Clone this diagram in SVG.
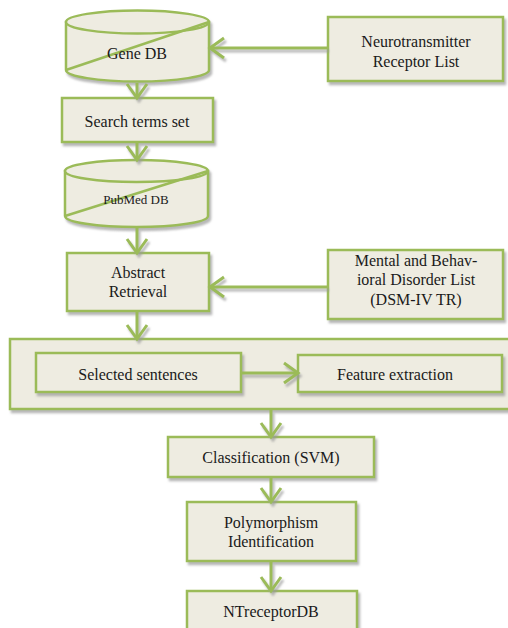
<svg xmlns="http://www.w3.org/2000/svg" width="508" height="628" viewBox="0 0 508 628">
<style>
.n{fill:#EEECE1;stroke:#9BBB59;stroke-width:2.5}
.l{fill:none;stroke:#9BBB59;stroke-width:2.5}
text{font-family:'Liberation Serif','Times New Roman',Times,serif;font-size:16px;fill:#1a1a1a;text-anchor:middle}
text.s{font-size:13px}
.c{fill:none;stroke:#9BBB59;stroke-width:3}
</style>
<defs>
<filter id="sh" x="-10%" y="-10%" width="130%" height="140%">
<feDropShadow dx="2" dy="3" stdDeviation="0.8" flood-color="#9a9a9a" flood-opacity="0.7"/>
</filter>
<marker id="ah" markerUnits="userSpaceOnUse" markerWidth="24" markerHeight="24" viewBox="0 0 24 24" refX="19" refY="12" orient="auto">
<path d="M5,2 L19,12 L5,22" fill="none" stroke="#9BBB59" stroke-width="3"/>
</marker>
</defs>
<rect width="508" height="628" fill="#FFFFFF"/>

<g id="geneDB" filter="url(#sh)">
<path class="n" d="M66,22 L66,70 A71.5,11.5 0 0 0 209,70 L209,22 Z"/>
<ellipse class="n" cx="137.5" cy="22" rx="71.5" ry="11.5"/>
<line class="l" x1="66" y1="70" x2="209" y2="22"/>
</g>
<text font-family="Liberation Serif, serif" x="137" y="59">Gene DB</text>

<g id="neuroList">
<rect class="n" x="328" y="17" width="175" height="64" filter="url(#sh)"/>
<text font-family="Liberation Serif, serif" x="416" y="47">Neurotransmitter</text>
<text font-family="Liberation Serif, serif" x="416" y="67">Receptor List</text>
</g>

<g id="searchTerms">
<rect class="n" x="62" y="98" width="151" height="44" filter="url(#sh)"/>
<text font-family="Liberation Serif, serif" x="137" y="127">Search terms set</text>
</g>

<g id="pubmedDB" filter="url(#sh)">
<path class="n" d="M65,171 L65,216 A71.5,11 0 0 0 208,216 L208,171 Z"/>
<ellipse class="n" cx="136.5" cy="171" rx="71.5" ry="11"/>
<line class="l" x1="65" y1="216" x2="208" y2="171"/>
</g>
<text class="s" font-family="Liberation Serif, serif" x="136" y="204">PubMed DB</text>

<g id="abstractRetrieval">
<rect class="n" x="67" y="253" width="142" height="58" filter="url(#sh)"/>
<text font-family="Liberation Serif, serif" x="138" y="278">Abstract</text>
<text font-family="Liberation Serif, serif" x="138" y="297">Retrieval</text>
</g>

<g id="disorderList">
<rect class="n" x="328" y="250" width="175" height="69" filter="url(#sh)"/>
<text font-family="Liberation Serif, serif" x="416" y="266">Mental and Behav-</text>
<text font-family="Liberation Serif, serif" x="416" y="285">ioral Disorder List</text>
<text font-family="Liberation Serif, serif" x="416" y="305">(DSM-IV TR)</text>
</g>

<g id="container">
<rect class="n" x="10" y="339" width="510" height="70" filter="url(#sh)"/>
</g>

<g id="selectedSentences">
<rect class="n" x="36" y="353" width="205" height="39" filter="url(#sh)"/>
<text font-family="Liberation Serif, serif" x="138" y="380">Selected sentences</text>
</g>

<g id="featureExtraction">
<rect class="n" x="298" y="355" width="204" height="37" filter="url(#sh)"/>
<text font-family="Liberation Serif, serif" x="395" y="380">Feature extraction</text>
</g>

<g id="classification">
<rect class="n" x="168" y="437" width="206" height="40" filter="url(#sh)"/>
<text font-family="Liberation Serif, serif" x="271" y="463">Classification (SVM)</text>
</g>

<g id="polymorphism">
<rect class="n" x="187" y="502" width="169" height="59" filter="url(#sh)"/>
<text font-family="Liberation Serif, serif" x="271" y="528">Polymorphism</text>
<text font-family="Liberation Serif, serif" x="271" y="547">Identification</text>
</g>

<g id="ntreceptorDB">
<rect class="n" x="187" y="591" width="170" height="46" filter="url(#sh)"/>
<text font-family="Liberation Serif, serif" x="271" y="617">NTreceptorDB</text>
</g>

<g id="connectors" filter="url(#sh)">
<line class="c" x1="137" y1="83" x2="137" y2="98" marker-end="url(#ah)"/>
<line class="c" x1="137" y1="143" x2="137" y2="160" marker-end="url(#ah)"/>
<line class="c" x1="137" y1="228" x2="137" y2="253" marker-end="url(#ah)"/>
<line class="c" x1="137" y1="312" x2="137" y2="339" marker-end="url(#ah)"/>
<line class="c" x1="271" y1="410" x2="271" y2="437" marker-end="url(#ah)"/>
<line class="c" x1="271" y1="478" x2="271" y2="502" marker-end="url(#ah)"/>
<line class="c" x1="271" y1="562" x2="271" y2="591" marker-end="url(#ah)"/>
<line class="c" x1="327" y1="48" x2="210" y2="48" marker-end="url(#ah)"/>
<line class="c" x1="327" y1="287" x2="210" y2="287" marker-end="url(#ah)"/>
<line class="c" x1="242" y1="373" x2="298" y2="373" marker-end="url(#ah)"/>
</g>
</svg>
